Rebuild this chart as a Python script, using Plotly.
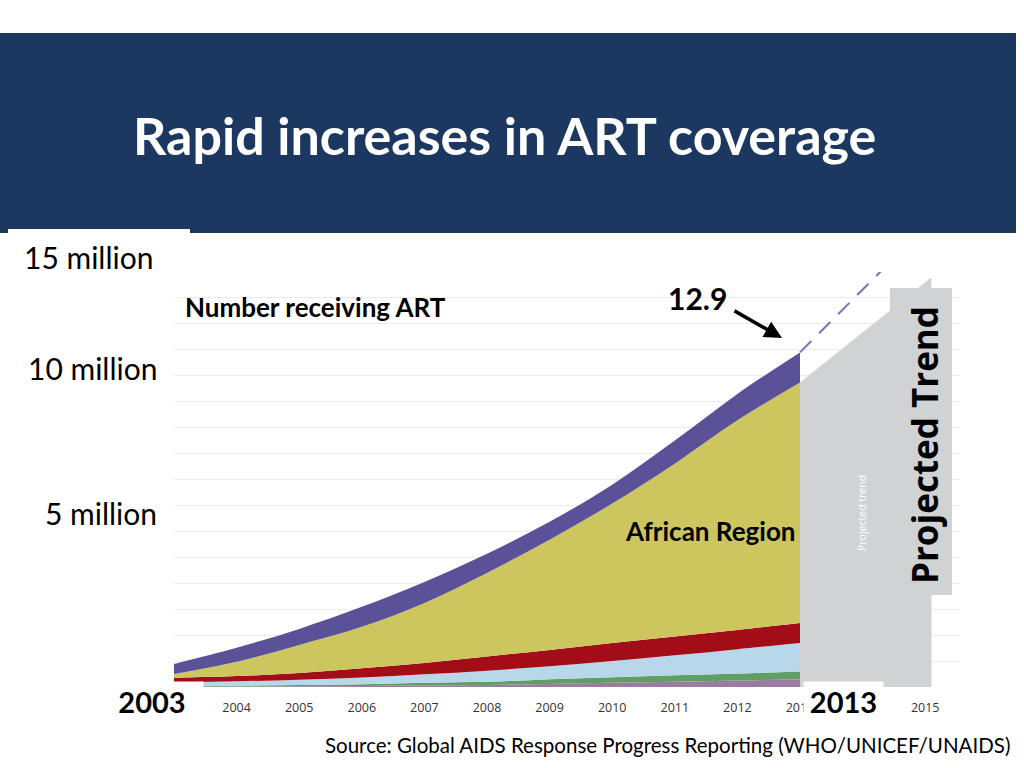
import plotly.graph_objects as go

# ---------------- data (millions receiving ART) ----------------
years = [2003, 2004, 2005, 2006, 2007, 2008, 2009, 2010, 2011, 2012, 2013]
eastern_med = [0.01, 0.02, 0.03, 0.04, 0.06, 0.08, 0.12, 0.16, 0.20, 0.25, 0.30]
european = [0.02, 0.03, 0.05, 0.07, 0.10, 0.12, 0.18, 0.22, 0.25, 0.27, 0.30]
asia_pacific = [0.15, 0.17, 0.20, 0.26, 0.33, 0.43, 0.50, 0.62, 0.77, 0.94, 1.10]
americas = [0.17, 0.20, 0.26, 0.35, 0.44, 0.55, 0.63, 0.70, 0.73, 0.74, 0.77]
african = [0.15, 0.55, 1.08, 1.60, 2.31, 3.22, 4.25, 5.37, 6.66, 8.08, 9.27]
other = [0.39, 0.54, 0.62, 0.77, 0.81, 0.74, 0.69, 0.73, 0.89, 1.02, 1.16]

proj_years = [2013, 2015.1]
proj_values = [11.74, 15.8]
trend_years = [2013, 2015]
trend_values = [12.9, 17.74]

tick_years = [2004, 2005, 2006, 2007, 2008, 2009, 2010, 2011, 2012, 2013, 2015]

series = [
    ("Eastern Mediterranean Region", eastern_med, "#9c7ba3"),
    ("European Region", european, "#5f9e64"),
    ("South-East Asia / Western Pacific", asia_pacific, "#b9d7eb"),
    ("Region of the Americas", americas, "#a30d18"),
    ("African Region", african, "#cdc65f"),
    ("Other", other, "#5a5199"),
]

# ---------------- layout geometry (pixels) ----------------
L, R, T, B = 174, 960, 272, 687
W, H = R - L, B - T


def px(x):
    return (x - L) / W


def py(y):
    return (B - y) / H


fig = go.Figure()

# projected trend area
fig.add_trace(go.Scatter(
    x=[proj_years[0]] + proj_years + [proj_years[-1]],
    y=[0] + proj_values + [0],
    fill="toself", fillcolor="#d1d2d4", mode="lines",
    line=dict(width=0), hoverinfo="skip", showlegend=False))

for name, vals, col in series:
    fig.add_trace(go.Scatter(
        x=years, y=vals, name=name, stackgroup="art", mode="lines",
        line=dict(width=0, shape="spline", smoothing=1.0, color=col),
        fillcolor=col, showlegend=False))

# dashed trend continuation
fig.add_trace(go.Scatter(
    x=trend_years, y=trend_values, mode="lines",
    line=dict(color="#7b73b6", width=2, dash="16px,11px"),
    hoverinfo="skip", showlegend=False))

fig.update_layout(
    width=1024, height=768,
    margin=dict(l=L, r=1024 - R, t=T, b=768 - B),
    paper_bgcolor="white", plot_bgcolor="white",
    font=dict(family="Lato", color="black"),
    showlegend=False,
)

fig.update_xaxes(
    range=[2003, 2003 + W / 62.6], tickmode="array",
    tickvals=tick_years, ticktext=[str(y) for y in tick_years],
    showgrid=False, zeroline=False, showline=False,
    ticks="outside", ticklen=9, tickcolor="rgba(0,0,0,0)",
    tickfont=dict(family="Open Sans", size=12.5, color="#333333"))

fig.update_yaxes(
    range=[0, 16], dtick=1, showticklabels=False,
    showgrid=True, gridcolor="#ebebeb", gridwidth=1,
    zeroline=False, showline=False)

shapes = [
    # navy title band
    dict(type="rect", xref="paper", yref="paper",
         x0=px(0), x1=px(1016), y0=py(233), y1=py(33),
         fillcolor="#1c3860", line=dict(width=0), layer="below"),
    # white label box over the band edge
    dict(type="rect", xref="paper", yref="paper",
         x0=px(8), x1=px(190), y0=py(262), y1=py(229),
         fillcolor="white", line=dict(width=0), layer="below"),
    # "Projected Trend" grey box
    dict(type="rect", xref="paper", yref="paper",
         x0=px(890), x1=px(952), y0=py(595), y1=py(288),
         fillcolor="#d1d2d4", line=dict(width=0), layer="above"),
]
fig.update_layout(shapes=shapes)


def ann(text, x, y, size, bold=False, color="black", family="Lato",
        xanchor="center", **kw):
    fig.add_annotation(
        text=f"<b>{text}</b>" if bold else text,
        xref="paper", yref="paper", x=px(x), y=py(y),
        xanchor=xanchor, yanchor="middle", showarrow=False,
        font=dict(family=family, size=size, color=color), **kw)


ann("Rapid increases in ART coverage", 504, 135, 52, bold=True, color="white")
ann("15 million", 155, 257, 30, xanchor="right")
ann("10 million", 159, 368, 30, xanchor="right")
ann("5 million", 159, 513, 30, xanchor="right")
ann("Number receiving ART", 315, 307, 26, bold=True)
ann("African Region", 710, 531, 26, bold=True)
ann("12.9", 697, 298, 30, bold=True)
ann("2003", 152, 701, 29, bold=True, bgcolor="white", width=100, height=36)
ann("2013", 843, 701, 29, bold=True, bgcolor="white", width=77, height=36)
ann("Projected Trend", 924, 445, 35, bold=True, family="Open Sans", textangle=-90)
ann("Projected trend", 862, 513, 10.5, color="white", family="Open Sans", textangle=-90)
ann("Source: Global AIDS Response Progress Reporting (WHO/UNICEF/UNAIDS)",
    1012, 745, 20.5, xanchor="right")

# arrow pointing to the 12.9 total
fig.add_annotation(
    xref="paper", yref="paper", x=px(782), y=py(338), text="",
    showarrow=True, ax=-49, ay=-28, arrowhead=2, arrowsize=1,
    arrowwidth=3.5, arrowcolor="black", standoff=0)

fig.write_html("out.html", config={"displayModeBar": False},
               post_script="document.body.style.margin='0';")
